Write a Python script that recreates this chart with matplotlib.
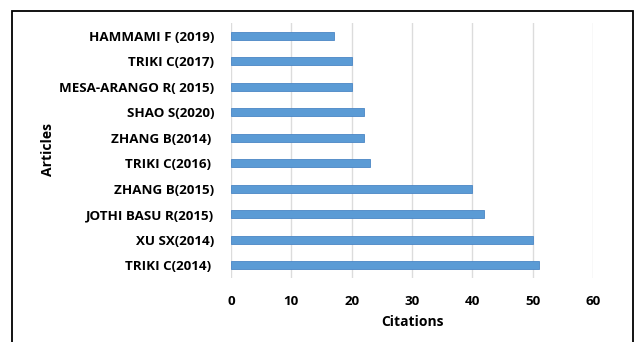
import matplotlib.pyplot as plt
from matplotlib.patches import Rectangle

articles = ["TRIKI C(2014) ", "XU SX(2014)", "JOTHI BASU R(2015)", "ZHANG B(2015)",
            "TRIKI C(2016) ", "ZHANG B(2014) ", "SHAO S(2020)", "MESA-ARANGO R( 2015)",
            "TRIKI C(2017)", "HAMMAMI F (2019)"]
citations = [51, 50, 42, 40, 23, 22, 22, 20, 20, 17]
xticks = [0, 10, 20, 30, 40, 50, 60]

plt.rcParams['font.family'] = ['Open Sans', 'DejaVu Sans']
plt.rcParams['font.weight'] = 'bold'

fig = plt.figure(figsize=(6.42, 3.42), dpi=100)
W, H = 642, 342
ax = fig.add_axes([231 / W, 1 - 278 / H, (593 - 231) / W, (278 - 23) / H])

ax.barh(range(len(articles)), citations, height=0.32, color='#5B9BD5',
        edgecolor='#4A86C5', linewidth=0.6, zorder=3)
ax.set_ylim(-0.5, len(articles) - 0.5)
ax.set_xlim(0, 60)
ax.set_xticks(xticks)
ax.set_yticks(range(len(articles)))
ax.set_yticklabels(articles, fontsize=9.6, fontweight='bold')
ax.tick_params(axis='x', labelsize=9.6, length=0, pad=12)
ax.tick_params(axis='y', length=0, pad=12)
ax.grid(axis='x', color='#dcdcdc', linewidth=1.0, zorder=0)
for s in ax.spines.values():
    s.set_visible(False)

ax.set_xlabel("Citations", fontsize=10, fontweight='bold', labelpad=5)
fig.text(48 / W, 1 - 150 / H, "Articles", rotation=90, fontsize=10, fontweight='bold',
         ha='center', va='center')

fig.patches.append(Rectangle((12 / W, -0.05), (633 - 12) / W, 1 - 11 / H + 0.05,
                             transform=fig.transFigure, fill=False,
                             edgecolor='black', linewidth=1.3))

fig.savefig("out.png", dpi=100)
